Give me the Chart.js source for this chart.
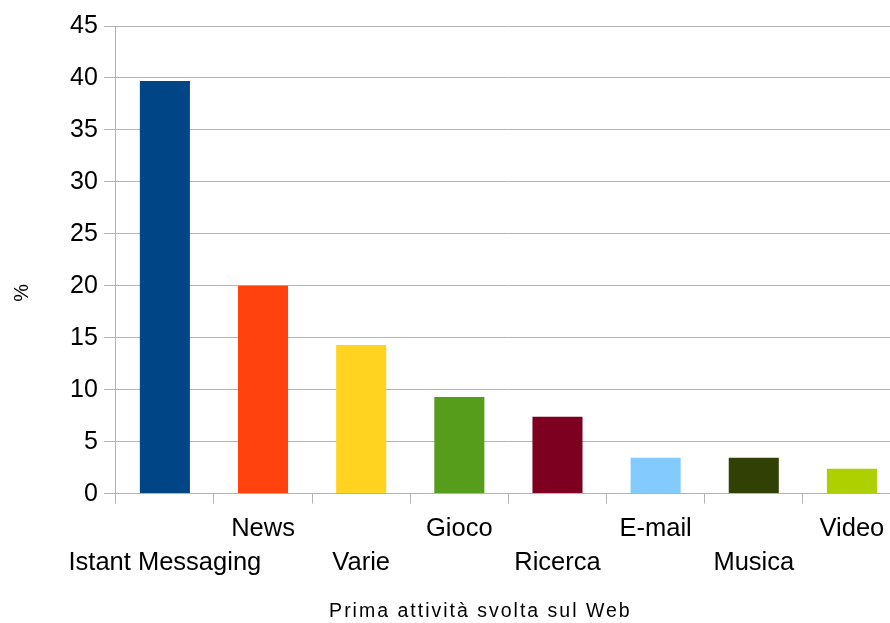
<!DOCTYPE html>
<html>
<head>
<meta charset="utf-8">
<script src="https://cdn.jsdelivr.net/npm/chart.js@4/dist/chart.umd.min.js"></script>
<style>
  html,body{margin:0;padding:0;background:#fff;overflow:hidden;width:890px;height:623px;}
  canvas{display:block;}
</style>
</head>
<body>
<canvas id="chart" width="905" height="623"></canvas>
<script>
const categories = ["Istant Messaging","News","Varie","Gioco","Ricerca","E-mail","Musica","Video"];
const values = [39.7, 20.0, 14.3, 9.3, 7.4, 3.45, 3.45, 2.4];
const colors = ["#004586","#ff420e","#ffd320","#579d1c","#7e0021","#83caff","#314004","#aecf00"];
const yTicks = [0,5,10,15,20,25,30,35,40,45];

// etichette sfalsate su due righe, come nell'originale
const labels = categories.map((c,i)=> i%2===0 ? ["", c] : [c, ""]);

Chart.defaults.font.family = "'Liberation Sans', Arial, sans-serif";
Chart.defaults.color = "#000";

// titolo asse x spaziato e spostato a sinistra, titolo asse y più in basso
const titleTweaks = {
  id: 'titleTweaks',
  afterUpdate(chart) {
    const sx = chart.scales.x, sy = chart.scales.y;
    if (sx && !sx._tw) {
      const orig = sx.drawTitle.bind(sx);
      sx.drawTitle = function(area) {
        const ctx = chart.ctx;
        ctx.save(); ctx.letterSpacing = '2px'; ctx.translate(-28, 0); orig(area); ctx.restore();
      };
      sx._tw = true;
    }
    if (sy && !sy._tw) {
      const orig = sy.drawTitle.bind(sy);
      sy.drawTitle = function(area) {
        const ctx = chart.ctx;
        ctx.save(); ctx.translate(0, 33); orig(area); ctx.restore();
      };
      sy._tw = true;
    }
  }
};

new Chart(document.getElementById("chart"), {
  type: 'bar',
  data: { labels, datasets: [{ data: values, backgroundColor: colors, categoryPercentage: 1, barPercentage: 0.51 }] },
  plugins: [titleTweaks],
  options: {
    responsive: false, animation: false,
    layout: { padding: { top: 26, right: 4, left: 0, bottom: 0 } },
    plugins: { legend: { display: false }, tooltip: { enabled: false } },
    scales: {
      x: {
        grid: { drawOnChartArea: false, drawTicks: true, tickLength: 10, color: "#b3b3b3", offset: true },
        border: { color: "#b3b3b3" },
        ticks: { font: { size: 25.5, lineHeight: 1.333 }, maxRotation: 0, autoSkip: false, padding: 8 },
        title: { display: true, text: "Prima attività svolta sul Web", font: { size: 19.5, lineHeight: 1.2 }, padding: { top: 12, bottom: 0 } }
      },
      y: {
        min: 0, max: 45,
        afterBuildTicks: ax => { ax.ticks = yTicks.map(v=>({value:v})); },
        grid: { color: "#b3b3b3", tickLength: 12 },
        border: { color: "#b3b3b3" },
        ticks: { font: { size: 25 }, padding: 6 },
        title: { display: true, text: "%", font: { size: 20, lineHeight: 1.2 }, padding: { top: 10, bottom: 30 } }
      }
    }
  }
});
</script>
</body>
</html>
